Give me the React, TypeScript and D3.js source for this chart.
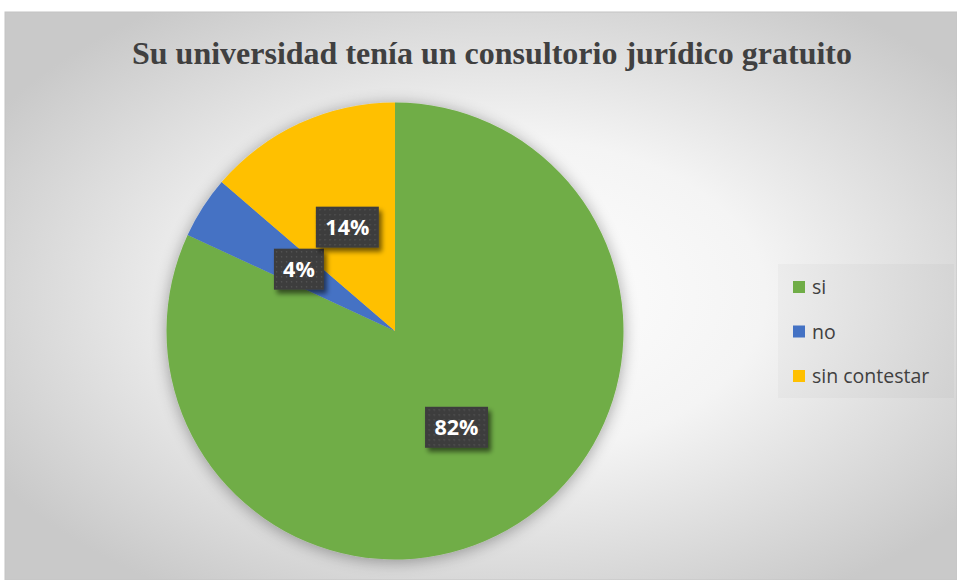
import React from "react";
import * as d3 from "d3";

const categories = ["si", "no", "sin contestar"];
const values = [81.9, 4.4, 13.7];
const colors = ["#70AD47", "#4472C4", "#FFC000"];
const title = "Su universidad tenía un consultorio jurídico gratuito";

const W = 957, H = 580;

export default function App() {
  const cx = 395, cy = 331, r = 228.5;
  const total = d3.sum(values);
  const pie = d3.pie<number>().sort(null).value((d) => d)(values);
  const arc = d3.arc<d3.PieArcDatum<number>>().innerRadius(0).outerRadius(r);
  const fmt = d3.format(".0%");
  const la = d3.arc<d3.PieArcDatum<number>>().innerRadius(r * 0.5).outerRadius(r * 0.5);
  return (
    <svg width={W} height={H} style={{ position: "absolute", left: 0, top: 0 }}>
      <defs>
        <radialGradient id="bg" cx="0.52" cy="0.5" r="0.62">
          <stop offset="0" stopColor="#ffffff" />
          <stop offset="0.45" stopColor="#f4f4f4" />
          <stop offset="1" stopColor="#c9c9c9" />
        </radialGradient>
        <filter id="pieShadow" x="-20%" y="-20%" width="140%" height="140%">
          <feGaussianBlur in="SourceAlpha" stdDeviation="8" />
          <feOffset dx="0" dy="2" result="b" />
          <feComponentTransfer><feFuncA type="linear" slope="0.35" /></feComponentTransfer>
          <feMerge><feMergeNode /><feMergeNode in="SourceGraphic" /></feMerge>
        </filter>
        <filter id="boxShadow" x="-30%" y="-30%" width="160%" height="170%">
          <feGaussianBlur in="SourceAlpha" stdDeviation="2.5" />
          <feOffset dx="3" dy="4" />
          <feComponentTransfer><feFuncA type="linear" slope="0.55" /></feComponentTransfer>
          <feMerge><feMergeNode /><feMergeNode in="SourceGraphic" /></feMerge>
        </filter>
        <pattern id="dots" width="5" height="5" patternUnits="userSpaceOnUse">
          <rect width="5" height="5" fill="#3d3d3d" />
          <rect x="2" y="2" width="1.3" height="1.3" fill="#575757" />
        </pattern>
      </defs>
      <rect x={5} y={12} width={W - 5} height={H - 12} fill="url(#bg)" stroke="#c4c4c4" strokeWidth={1} />
      <text x={492} y={64} textAnchor="middle" fontFamily="'Liberation Serif', 'Times New Roman', serif" fontWeight="bold" fontSize={31} fill="#404040" textLength={720} lengthAdjust="spacingAndGlyphs">
        {title}
      </text>
      <g transform={`translate(${cx},${cy})`}>
        <g filter="url(#pieShadow)">
          {pie.map((d, i) => (
            <path key={i} d={arc(d) || ""} fill={colors[i]} />
          ))}
        </g>
        {pie.map((d, i) => {
          const [x, y] = la.centroid(d);
          const label = fmt(d.data / total);
          const w = label.length === 2 ? 50 : 63;
          const h = 41;
          return (
            <g key={i} transform={`translate(${x},${y})`}>
              <rect x={-w / 2} y={-h / 2} width={w} height={h} fill="url(#dots)" filter="url(#boxShadow)" />
              <text x={0} y={8} textAnchor="middle" fontFamily="'Open Sans', Lato, sans-serif" fontWeight="bold" fontSize={21.5} fill="#ffffff">
                {label}
              </text>
            </g>
          );
        })}
      </g>
      <rect x={778} y={264} width={176} height={134} fill="rgba(0,0,0,0.025)" />
      {categories.map((c, i) => (
        <g key={c} transform={`translate(793,${287 + i * 44.5})`}>
          <rect x={0} y={-6} width={12} height={12} fill={colors[i]} />
          <text x={19} y={7} fontFamily="'Open Sans', Lato, sans-serif" fontSize={19.5} fill="#404040">
            {c}
          </text>
        </g>
      ))}
    </svg>
  );
}
